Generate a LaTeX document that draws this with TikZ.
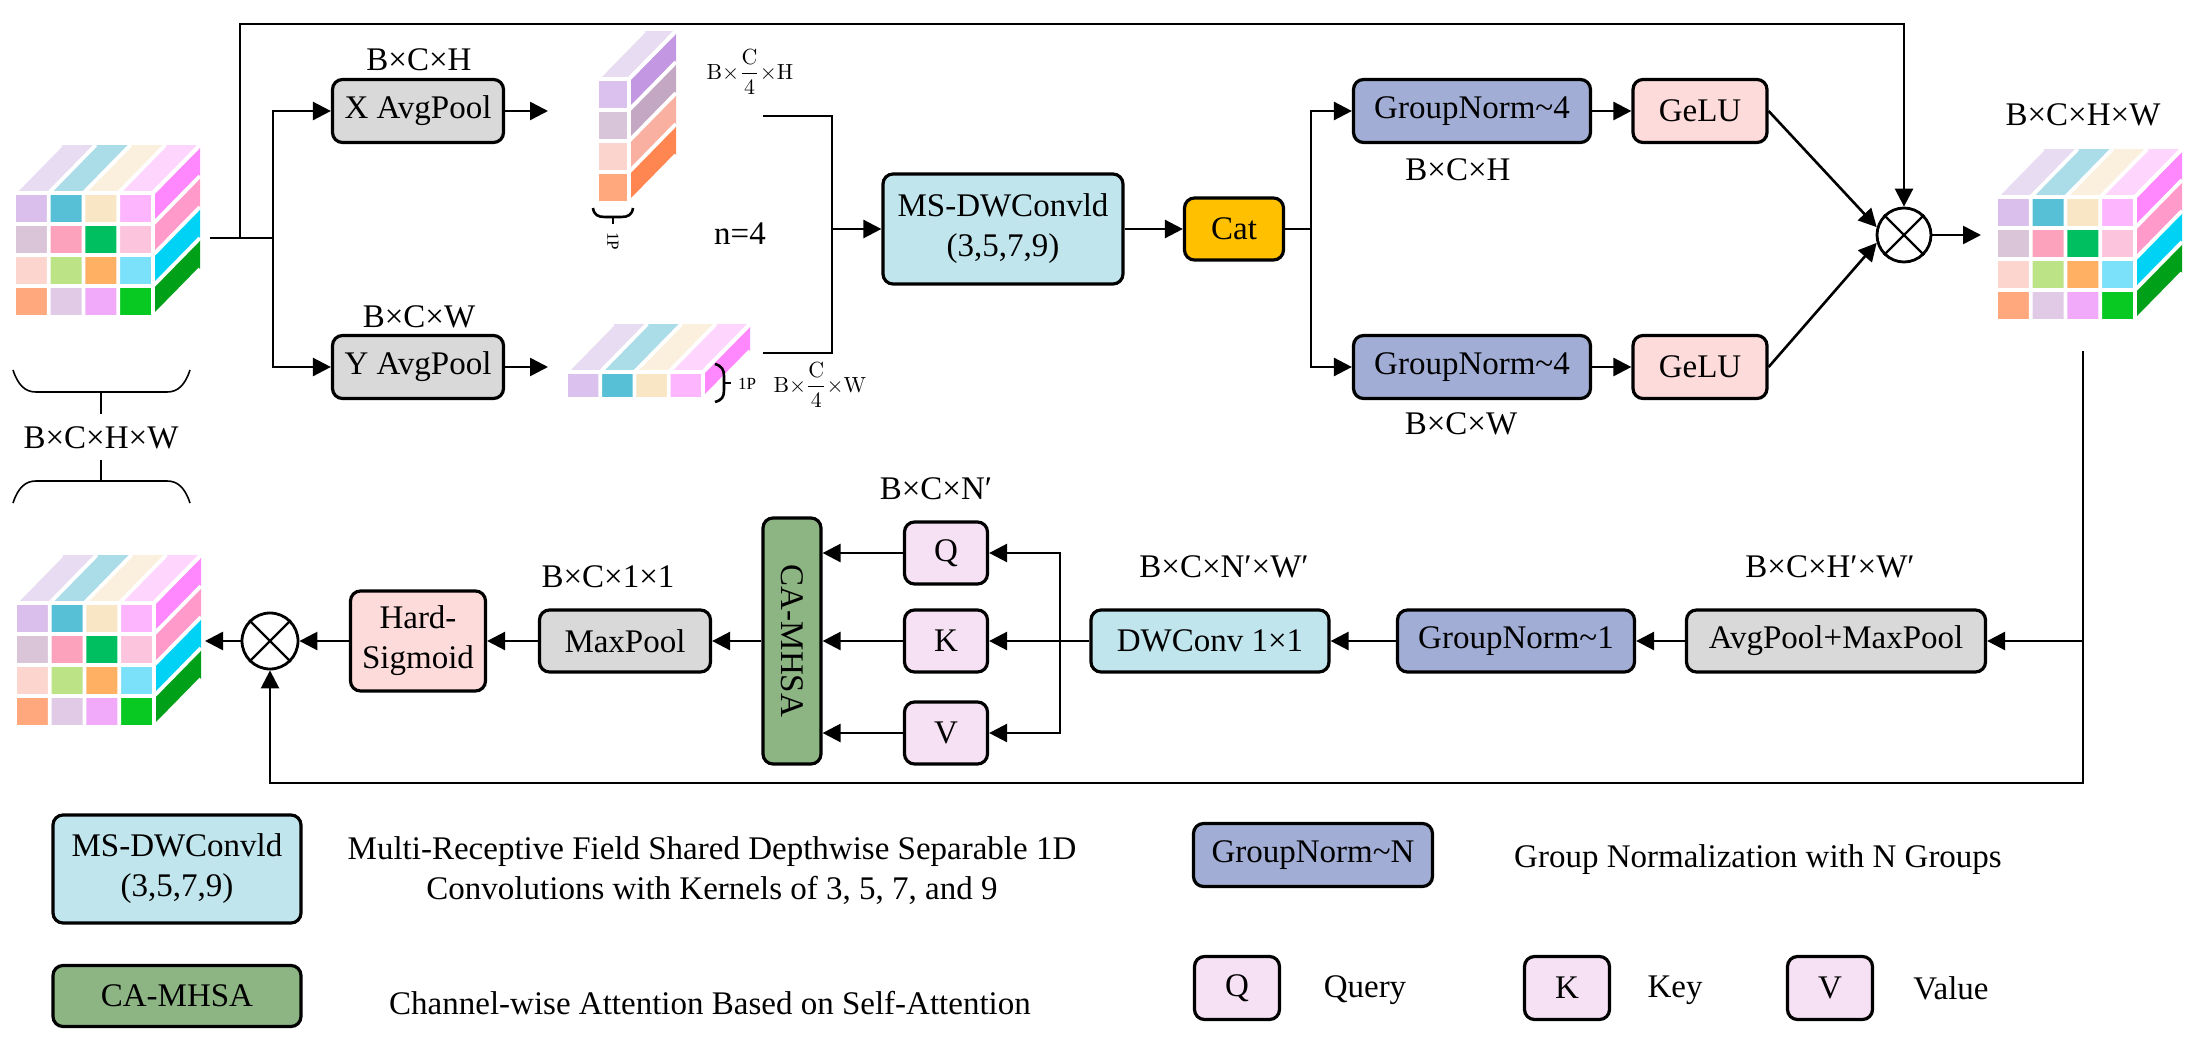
\documentclass[tikz,border=0pt]{standalone}
\usepackage[no-math]{fontspec}
\setmainfont{Liberation Serif}
\usepackage{amsmath}
\usepackage{graphicx}
\usetikzlibrary{arrows.meta,calc}
\definecolor{grayb}{HTML}{D9D9D9}
\definecolor{gnb}{HTML}{A1ADD5}
\definecolor{pinkb}{HTML}{FDDBDA}
\definecolor{blueb}{HTML}{C1E5EC}
\definecolor{catb}{HTML}{FFC000}
\definecolor{qkvb}{HTML}{F6E1F4}
\definecolor{greenb}{HTML}{8DB583}
% #1 X, #2 Y (front top-left), #3 W, #4 H, #5 ncols, #6 nrows, #7 front rows, #8 top, #9 right
\newcommand{\prism}[9]{%
\begin{scope}[shift={(#1,#2)}]
\pgfmathsetmacro\pcw{#3/#5}
\pgfmathsetmacro\pch{#4/#6}
\foreach \c [count=\i from 0] in {#8}{\definecolor{tmpc}{HTML}{\c}\fill[tmpc] (\i*\pcw,0) -- ++(\pcw,0) -- ++(47,-48) -- ++(-\pcw,0) -- cycle;}
\foreach \c [count=\j from 0] in {#9}{\definecolor{tmpc}{HTML}{\c}\fill[tmpc] (#3,\j*\pch) -- ++(0,\pch) -- ++(47,-48) -- ++(0,-\pch) -- cycle;}
\foreach \r [count=\j from 0] in {#7}{\foreach \c [count=\i from 0] in \r {\definecolor{tmpc}{HTML}{\c}\fill[tmpc] (\i*\pcw,\j*\pch) rectangle ++(\pcw,\pch);}}
\foreach \i in {0,...,#5}{\draw[white,line width=1.9pt] (\i*\pcw,#4) -- (\i*\pcw,0) -- ++(47,-48);}
\foreach \j in {0,...,#6}{\draw[white,line width=1.9pt] (0,\j*\pch) -- (#3,\j*\pch) -- ++(47,-48);}
\end{scope}}
\newcommand{\bigcube}[2]{\prism{#1}{#2}{139}{124}{4}{4}%
{{DABEEB,58C0D6,F8E6C4,FDB6FD},{D9C4D8,FDA2BC,00BF60,FDC4DD},{FCD5CE,BCE486,FFB063,7BE0F9},{FFA87E,E0CAE6,F1AAFA,08C922}}%
{E8DCF3,ABDDE8,FAF0DD,FED6FD}{FF88FF,FF9ACB,00D2F5,00A018}}
\begin{document}
\begin{tikzpicture}[x=0.5pt,y=-0.5pt,
  every node/.style={font=\fontsize{16.5}{20}\selectfont},
  box/.style={draw, line width=1.6pt, rounded corners=5pt, align=center, inner sep=0pt},
  ln/.style={line width=1.3pt},
  arr/.style={line width=1.3pt, -{Triangle[length=9pt,width=9pt]}},
  otimes/.style={draw, circle, line width=1.4pt, minimum size=27pt, inner sep=0pt, fill=white},
  fr/.style={font=\fontsize{11}{13}\selectfont, inner sep=0pt},
  sm/.style={font=\fontsize{8.5}{10}\selectfont, inner sep=0pt},
  brc/.style={line width=1.3pt}]
\useasboundingbox (0,0) rectangle (2206,1049);

% ---------- prisms ----------
\bigcube{14}{193}
\bigcube{1996}{197}
\bigcube{15}{603}
\prism{597}{79}{32}{124}{1}{4}{{DBC1EE},{D8C5D9},{FAD4CD},{FFA87D}}{E8DCF3}{C397E2,C4A8C3,F9B0A0,FF8650}
\prism{566}{372}{137}{27}{4}{1}{{DBC1EE,58C0D6,F8E6C4,FDB6FD}}{E8DCF3,ABDDE8,FAF0DD,FED6FD}{FF88FF}

% ---------- top branch nodes ----------
\node[box, fill=grayb, minimum width=85.5pt, minimum height=31.5pt] (xavg) at (418,111) {X AvgPool};
\node[box, fill=grayb, minimum width=85.5pt, minimum height=31.5pt] (yavg) at (418,367) {Y AvgPool};
\node[box, fill=blueb, minimum width=120pt, minimum height=55pt] (ms) at (1003,229) {MS-DWConvld\\(3,5,7,9)};
\node[box, fill=catb, minimum width=49.5pt, minimum height=31pt] (cat) at (1234,229) {Cat};
\node[box, fill=gnb, minimum width=118.5pt, minimum height=31.5pt] (gn1) at (1472,111) {GroupNorm\textasciitilde4};
\node[box, fill=pinkb, minimum width=67pt, minimum height=31.5pt] (ge1) at (1700,111) {GeLU};
\node[box, fill=gnb, minimum width=118.5pt, minimum height=31.5pt] (gn2) at (1472,367) {GroupNorm\textasciitilde4};
\node[box, fill=pinkb, minimum width=67pt, minimum height=31.5pt] (ge2) at (1700,367) {GeLU};
\node[otimes] (m1) at (1904,235) {};
\draw[line width=1.2pt] (m1.45) -- (m1.225) (m1.135) -- (m1.315);

% ---------- bottom branch nodes ----------
\node[box, fill=grayb, minimum width=149.5pt, minimum height=31pt] (amp) at (1836,641) {AvgPool+MaxPool};
\node[box, fill=gnb, minimum width=118.5pt, minimum height=31pt] (gn3) at (1516,641) {GroupNorm\textasciitilde1};
\node[box, fill=blueb, minimum width=119pt, minimum height=31pt] (dw) at (1210,641) {DWConv 1×1};
\node[box, fill=qkvb, minimum width=41.5pt, minimum height=31pt] (q) at (946,553) {Q};
\node[box, fill=qkvb, minimum width=41.5pt, minimum height=31pt] (k) at (946,641) {K};
\node[box, fill=qkvb, minimum width=41.5pt, minimum height=31pt] (v) at (946,733) {V};
\node[box, fill=greenb, minimum width=29pt, minimum height=123pt] (ca) at (792,641) {\rotatebox{-90}{CA-MHSA}};
\node[box, fill=grayb, minimum width=85.5pt, minimum height=31pt] (mp) at (625,641) {MaxPool};
\node[box, fill=pinkb, minimum width=67.5pt, minimum height=50pt] (hs) at (418,641) {Hard-\\Sigmoid};
\node[otimes, minimum size=28pt] (m2) at (270,641) {};
\draw[line width=1.2pt] (m2.45) -- (m2.225) (m2.135) -- (m2.315);

% ---------- coordinates ----------
\coordinate (inR) at (210,238);
\coordinate (j1) at (240,238);
\coordinate (j2) at (273,238);
\coordinate (topL) at (240,24);
\coordinate (xa) at (548,111);
\coordinate (ya) at (548,367);
\coordinate (s1) at (763,116);
\coordinate (s2) at (763,353);
\coordinate (sj) at (832,229);
\coordinate (cj) at (1311,229);
\coordinate (mo) at (1981,235);
\coordinate (rtop) at (2083,351);
\coordinate (rbot) at (2083,783);
\coordinate (dj) at (1060,641);
\coordinate (o2) at (205,641);

% ---------- connectors ----------
\draw[ln] (inR) -- (j2);
\draw[arr] (j1) -- (topL) -| (m1.north);
\draw[arr] (j2) |- (xavg.west);
\draw[arr] (j2) |- (yavg.west);
\draw[arr] (xavg.east) -- (xa);
\draw[arr] (yavg.east) -- (ya);
\draw[ln] (s1) -- (s1 -| sj) -- (s2 -| sj) -- (s2);
\draw[arr] (sj) -- (ms.west);
\draw[arr] (ms.east) -- (cat.west);
\draw[ln] (cat.east) -- (cj);
\draw[arr] (cj) |- (gn1.west);
\draw[arr] (cj) |- (gn2.west);
\draw[arr] (gn1.east) -- (ge1.west);
\draw[arr] (gn2.east) -- (ge2.west);
\draw[arr] (ge1.east) -- (m1.164);
\draw[arr] (ge2.east) -- (m1.196);
\draw[arr] (m1.east) -- (mo);
\draw[arr] (rtop) -- (rbot) -| (m2.south);
\draw[arr] (rtop |- amp.east) -- (amp.east);
\draw[arr] (amp.west) -- (gn3.east);
\draw[arr] (gn3.west) -- (dw.east);
\draw[ln] (dw.west) -- (dj);
\draw[arr] (dj) |- (q.east);
\draw[arr] (dj) -- (k.east);
\draw[arr] (dj) |- (v.east);
\draw[arr] (q.west) -- (q.west -| ca.east);
\draw[arr] (k.west) -- (k.west -| ca.east);
\draw[arr] (v.west) -- (v.west -| ca.east);
\draw[arr] (ca.west) -- (mp.east);
\draw[arr] (mp.west) -- (hs.east);
\draw[arr] (hs.west) -- (m2.east);
\draw[arr] (m2.west) -- (o2);

% ---------- braces ----------
\draw[line width=0.8pt] (13,370) .. controls (18,385) and (25,392) .. (36,392) -- (167,392) .. controls (178,392) and (185,385) .. (190,370);
\draw[line width=0.8pt] (101,392) -- (101,414);
\draw[line width=0.8pt] (13,503) .. controls (18,488) and (25,481) .. (36,481) -- (167,481) .. controls (178,481) and (185,488) .. (190,503);
\draw[line width=0.8pt] (101,481) -- (101,460);
\draw[brc] (593,208) .. controls (594,215) and (598,217) .. (605,217) -- (621,217) .. controls (628,217) and (632,215) .. (633,208);
\draw[brc] (613,217) -- (613,224);
\draw[brc] (715,364) .. controls (722,366) and (724,370) .. (724,376) -- (724,390) .. controls (724,397) and (722,400) .. (715,402);
\draw[brc] (724,383) -- (731,383);
\node[sm, rotate=-90] (p1) at (613,241) {1P};
\node[sm] (p2) at (747,384) {1P};

% ---------- labels ----------
\node (l1) at (419,60) {B×C×H};
\node (l2) at (419,317) {B×C×W};
\node[fr] (f1) at (750,72) {$\mathrm{B}{\times}\dfrac{\mathrm{C}}{4}{\times}\mathrm{H}$};
\node[fr] (f2) at (820,385) {$\mathrm{B}{\times}\dfrac{\mathrm{C}}{4}{\times}\mathrm{W}$};
\node (n4) at (740,234) {n=4};
\node (l3) at (1458,170) {B×C×H};
\node (l4) at (1461,424) {B×C×W};
\node (l5) at (2083,115) {B×C×H×W};
\node (l6) at (101,438) {B×C×H×W};
\node (l7) at (936,489) {B×C×N′};
\node (l8) at (608,577) {B×C×1×1};
\node (l9) at (1224,567) {B×C×N′×W′};
\node (l10) at (1830,567) {B×C×H′×W′};

% ---------- legend ----------
\node[box, fill=blueb, minimum width=124pt, minimum height=54pt] (lms) at (177,869) {MS-DWConvld\\(3,5,7,9)};
\node[align=center] (tms) at (712,871) {Multi-Receptive Field Shared Depthwise Separable 1D\\Convolutions with Kernels of 3, 5, 7, and 9};
\node[box, fill=greenb, minimum width=124pt, minimum height=30.5pt] (lca) at (177,996) {CA-MHSA};
\node (tca) at (710,1003) {Channel-wise Attention Based on Self-Attention};
\node[box, fill=gnb, minimum width=119.5pt, minimum height=31.5pt] (lgn) at (1313,855) {GroupNorm\textasciitilde N};
\node (tgn) at (1758,860) {Group Normalization with N Groups};
\node[box, fill=qkvb, minimum width=42.5pt, minimum height=31.5pt] (lq) at (1237,988) {Q};
\node (tq) at (1365,990) {Query};
\node[box, fill=qkvb, minimum width=42.5pt, minimum height=31.5pt] (lk) at (1567,988) {K};
\node (tk) at (1675,990) {Key};
\node[box, fill=qkvb, minimum width=42.5pt, minimum height=31.5pt] (lv) at (1830,988) {V};
\node (tv) at (1951,988) {Value};
\end{tikzpicture}
\end{document}
